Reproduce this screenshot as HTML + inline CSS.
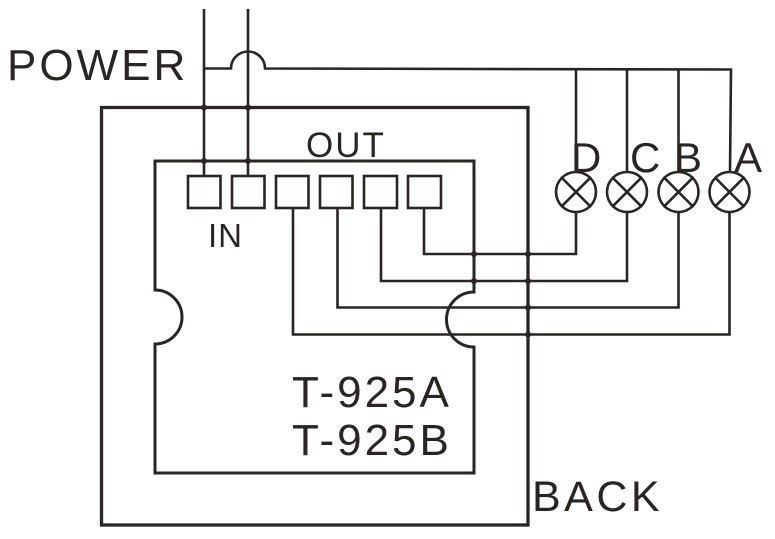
<!DOCTYPE html>
<html>
<head>
<meta charset="utf-8">
<style>
  html, body { margin: 0; padding: 0; background: #ffffff; }
  svg { display: block; }
  text { font-family: "Liberation Sans", "DejaVu Sans", sans-serif; fill: #2a2522; }
</style>
</head>
<body>
<svg width="775" height="539" viewBox="0 0 775 539" xmlns="http://www.w3.org/2000/svg">
  <rect width="775" height="539" fill="#ffffff"/>
  <g fill="none" stroke="#2a2522" stroke-linejoin="miter" stroke-linecap="square">
    <!-- Outer box -->
    <rect x="101.5" y="107.5" width="426.5" height="417.5" stroke-width="3.3"/>
    <!-- Inner box with notches -->
    <path d="M155,161 L474,161 L474,292 A27.5,27.5 0 0 0 474,347 L474,473 L155,473 L155,344 A27,27 0 0 0 155,290 Z" stroke-width="3"/>

    <!-- Power wires -->
    <g stroke-width="2.6" stroke-linecap="butt">
      <line x1="204" y1="9" x2="204" y2="176"/>
      <line x1="248" y1="9" x2="248" y2="176"/>
      <!-- POWER line with hop -->
      <path d="M204,68.5 L231,68.5 A17,17 0 0 1 265,68.5 L731,69.5 L730,172"/>
      <line x1="576" y1="69" x2="576" y2="172"/>
      <line x1="627" y1="69" x2="627" y2="172"/>
      <line x1="678.5" y1="69" x2="678.5" y2="172"/>

      <!-- output wires -->
      <path d="M424,208 L424,254 L576,254 L576,212"/>
      <path d="M381,208 L381,281 L627,281 L627,212"/>
      <path d="M337.5,208 L337.5,307.5 L678.5,307.5 L678.5,212"/>
      <path d="M293,208 L293,334.5 L729.5,334.5 L729.5,212"/>
    </g>

    <!-- Terminal boxes -->
    <g stroke-width="2.6">
      <rect x="188" y="176" width="32.5" height="32"/>
      <rect x="232" y="176" width="32.5" height="32"/>
      <rect x="276" y="176" width="32.5" height="32"/>
      <rect x="320" y="176" width="32.5" height="32"/>
      <rect x="364" y="176" width="33" height="32"/>
      <rect x="408" y="176" width="33" height="32"/>
    </g>

    <!-- Lamps -->
    <g stroke-width="2.6">
      <circle cx="576" cy="192" r="20"/>
      <line x1="561.9" y1="177.9" x2="590.1" y2="206.1"/>
      <line x1="590.1" y1="177.9" x2="561.9" y2="206.1"/>
      <circle cx="627" cy="192" r="20"/>
      <line x1="612.9" y1="177.9" x2="641.1" y2="206.1"/>
      <line x1="641.1" y1="177.9" x2="612.9" y2="206.1"/>
      <circle cx="678.5" cy="192" r="20"/>
      <line x1="664.4" y1="177.9" x2="692.6" y2="206.1"/>
      <line x1="692.6" y1="177.9" x2="664.4" y2="206.1"/>
      <circle cx="729.5" cy="192" r="20"/>
      <line x1="715.4" y1="177.9" x2="743.6" y2="206.1"/>
      <line x1="743.6" y1="177.9" x2="715.4" y2="206.1"/>
    </g>
  </g>

  <!-- Junction dots -->
  <g fill="#2a2522">
    <circle cx="204" cy="107.5" r="3"/>
    <circle cx="248" cy="107.5" r="3"/>
    <circle cx="204" cy="161" r="3"/>
    <circle cx="248" cy="161" r="3"/>
    <circle cx="474" cy="254" r="3"/>
    <circle cx="528" cy="254" r="3"/>
    <circle cx="474" cy="281" r="3"/>
    <circle cx="528" cy="281" r="3"/>
    <circle cx="528" cy="307.5" r="3"/>
    <circle cx="528" cy="334.5" r="3"/>
  </g>

  <!-- Labels -->
  <text x="7" y="80" font-size="44" letter-spacing="3">POWER</text>
  <text x="306" y="157" font-size="35" letter-spacing="2">OUT</text>
  <text x="208" y="247" font-size="33" letter-spacing="1">IN</text>
  <text x="571" y="172" font-size="42">D</text>
  <text x="630" y="172" font-size="42">C</text>
  <text x="674" y="172" font-size="42">B</text>
  <text x="734" y="172" font-size="42">A</text>
  <text x="292" y="407" font-size="44" letter-spacing="3">T-925A</text>
  <text x="292" y="455" font-size="44" letter-spacing="3">T-925B</text>
  <text x="532" y="511" font-size="43" letter-spacing="3.5">BACK</text>
</svg>
</body>
</html>
